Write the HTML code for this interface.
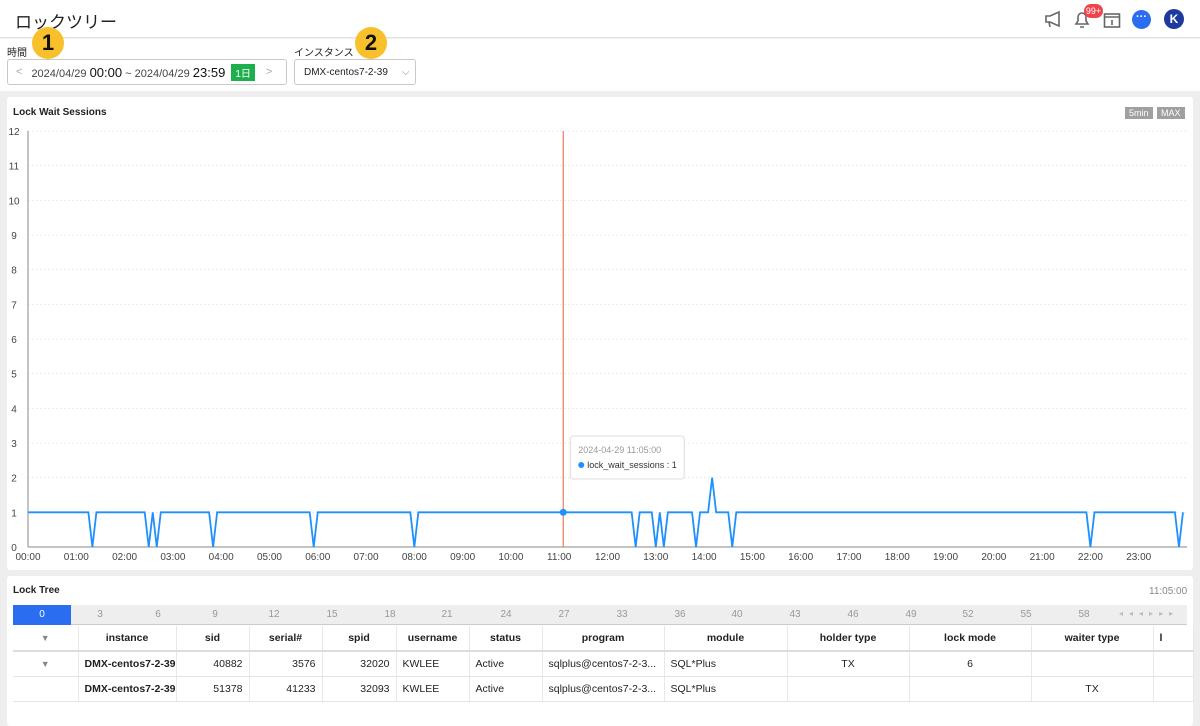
<!DOCTYPE html>
<html><head><meta charset="utf-8">
<style>
*{box-sizing:border-box;margin:0;padding:0}
body{width:1200px;height:721px;overflow:hidden;background:#eeeeee;font-family:"Liberation Sans","Noto Sans CJK JP",sans-serif;color:#222;position:relative}
.abs{position:absolute}
.hdr{left:0;top:0;width:1200px;height:38px;background:#fff;border-bottom:1px solid #e4e4e4}
.flt{left:0;top:39px;width:1200px;height:52px;background:#fff}
.box{border:1px solid #c8c8c8;border-radius:3px;background:#fff;height:26px;top:59px;font-size:11px;display:flex;align-items:center}
.badge{width:32px;height:32px;border-radius:50%;background:#f8c02a;font-weight:bold;font-size:22px;text-align:center;line-height:32px;color:#111}
.panel{background:#fff;border-radius:3px}
table{border-collapse:collapse;font-size:10.5px;table-layout:fixed}
td,th{height:25px;border-right:1px solid #e8e8e8;border-bottom:1px solid #e4e4e4;padding:0 6px;white-space:nowrap;overflow:hidden}
th{font-weight:bold;text-align:center;border-bottom:2px solid #ddd}
</style></head><body>
<div class="abs hdr">
 <div class="abs" style="left:15px;top:8px;font-size:17px">ロックツリー</div>
 <svg class="abs" style="left:1044px;top:10px" width="20" height="18"><path d="M2 6h4l9-4v14l-9-4H2z M5 12l1 5" fill="none" stroke="#666" stroke-width="1.6"/></svg>
 <svg class="abs" style="left:1073px;top:10px" width="18" height="20"><path d="M3 14h12l-2-3V7a4 4 0 0 0-8 0v4z M7 17h4" fill="none" stroke="#666" stroke-width="1.6"/></svg>
 <div class="abs" style="left:1084px;top:4px;width:19px;height:14px;border-radius:7px;background:#f0444c;color:#fff;font-size:9px;text-align:center;line-height:14px">99+</div>
 <svg class="abs" style="left:1103px;top:11px" width="18" height="18"><rect x="1.5" y="3" width="15" height="13" fill="none" stroke="#666" stroke-width="1.6"/><path d="M1.5 6h15 M9 9v5" stroke="#666" stroke-width="1.6"/></svg>
 <div class="abs" style="left:1132px;top:10px;width:19px;height:19px;border-radius:50%;background:#2a6df0;color:#fff;font-size:11px;text-align:center;line-height:15px;font-weight:bold">···</div>
 <div class="abs" style="left:1164px;top:9px;width:20px;height:20px;border-radius:50%;background:#1f3a9e;color:#fff;font-size:12px;text-align:center;line-height:20px;font-weight:bold">K</div>
</div>
<div class="abs flt"></div>
<div class="abs" style="left:7px;top:44px;font-size:10px">時間</div>
<div class="abs badge" style="left:32px;top:27px">1</div>
<div class="abs box" style="left:7px;width:280px">
 <span style="color:#aaa;margin:0 9px 0 8px">&lt;</span>
 <span style="color:#444">2024/04/29 <b style="font-size:13px;font-weight:normal;color:#111">00:00</b> ~ 2024/04/29 <b style="font-size:13px;font-weight:normal;color:#111">23:59</b></span>
 <span style="background:#1dae4e;color:#fff;font-size:10px;padding:1px 4px;margin-left:6px">1日</span>
 <span style="color:#aaa;margin-left:11px">&gt;</span>
</div>
<div class="abs" style="left:294px;top:44px;font-size:10px">インスタンス</div>
<div class="abs badge" style="left:355px;top:27px">2</div>
<div class="abs box" style="left:294px;width:122px;font-size:10px;padding-left:9px">DMX-centos7-2-39<span style="margin-left:14px;color:#888">⌵</span></div>

<div class="abs panel" style="left:7px;top:97px;width:1186px;height:473px">
 <div class="abs" style="left:6px;top:10px;font-size:10px;font-weight:bold">Lock Wait Sessions</div>
 <div class="abs" style="left:1118px;top:10px;font-size:9px;color:#fff;background:#a0a0a0;padding:1px 4px">5min</div>
 <div class="abs" style="left:1150px;top:10px;font-size:9px;color:#fff;background:#a0a0a0;padding:1px 4px">MAX</div>
</div>
<svg class="abs" style="left:0;top:0" width="1200" height="580" id="chart"></svg>

<div class="abs panel" style="left:7px;top:576px;width:1186px;height:150px">
 <div class="abs" style="left:6px;top:9px;font-size:10px;font-weight:bold">Lock Tree</div>
 <div class="abs" style="left:1142px;top:10px;font-size:10px;color:#888">11:05:00</div>
 <div class="abs" id="tl" style="left:6px;top:29px;width:1174px;height:20px;background:#eee;border-bottom:1px solid #ccc;font-size:10px;color:#999">
  <div class="abs" style="left:0;top:0;width:58px;height:20px;background:#2a6df0;color:#fff;text-align:center;line-height:20px">0</div>
  <div class="abs" style="left:1106px;top:4px;font-size:8px;letter-spacing:6px;color:#bbb">◂◂◂▸▸▸</div>
 </div>
 <table class="abs" style="left:6px;top:50px;width:1180px">
  <colgroup><col style="width:65px"><col style="width:98px"><col style="width:73px"><col style="width:73px"><col style="width:74px"><col style="width:73px"><col style="width:73px"><col style="width:122px"><col style="width:123px"><col style="width:122px"><col style="width:122px"><col style="width:122px"><col style="width:40px"></colgroup>
  <tr><th style="color:#888;font-size:9px">▼</th><th>instance</th><th>sid</th><th>serial#</th><th>spid</th><th>username</th><th>status</th><th>program</th><th>module</th><th>holder type</th><th>lock mode</th><th>waiter type</th><th style="text-align:left">l</th></tr>
  <tr><td style="text-align:center;color:#888;font-size:9px">▼</td><td style="font-weight:bold;text-align:right">DMX-centos7-2-39</td><td style="text-align:right">40882</td><td style="text-align:right">3576</td><td style="text-align:right">32020</td><td>KWLEE</td><td>Active</td><td>sqlplus@centos7-2-3...</td><td>SQL*Plus</td><td style="text-align:center">TX</td><td style="text-align:center">6</td><td></td><td></td></tr>
  <tr><td></td><td style="font-weight:bold;text-align:right">DMX-centos7-2-39</td><td style="text-align:right">51378</td><td style="text-align:right">41233</td><td style="text-align:right">32093</td><td>KWLEE</td><td>Active</td><td>sqlplus@centos7-2-3...</td><td>SQL*Plus</td><td></td><td></td><td style="text-align:center">TX</td><td></td></tr>
 </table>
</div>

<script>
const yTicks=[0,1,2,3,4,5,6,7,8,9,10,11,12];
const xHours=[0,1,2,3,4,5,6,7,8,9,10,11,12,13,14,15,16,17,18,19,20,21,22,23];
const timelineLabels=[3,6,9,12,15,18,21,24,27,33,36,40,43,46,49,52,55,58];
const selectedIndex=133;
const lockWaitSessions=[
1,1,1,1,1,1,1,1,1,1,1,1,1,1,1,1,0,1,1,1,1,1,1,1,
1,1,1,1,1,1,0,1,0,1,1,1,1,1,1,1,1,1,1,1,1,1,0,1,
1,1,1,1,1,1,1,1,1,1,1,1,1,1,1,1,1,1,1,1,1,1,1,0,
1,1,1,1,1,1,1,1,1,1,1,1,1,1,1,1,1,1,1,1,1,1,1,1,
0,1,1,1,1,1,1,1,1,1,1,1,1,1,1,1,1,1,1,1,1,1,1,1,
1,1,1,1,1,1,1,1,1,1,1,1,1,1,1,1,1,1,1,1,1,1,1,1,
1,1,1,1,1,1,1,0,1,1,1,1,0,1,0,1,1,1,1,1,1,1,0,1,
1,1,2,1,1,1,1,0,1,1,1,1,1,1,1,1,1,1,1,1,1,1,1,1,
1,1,1,1,1,1,1,1,1,1,1,1,1,1,1,1,1,1,1,1,1,1,1,1,
1,1,1,1,1,1,1,1,1,1,1,1,1,1,1,1,1,1,1,1,1,1,1,1,
1,1,1,1,1,1,1,1,1,1,1,1,1,1,1,1,1,1,1,1,1,1,1,1,
0,1,1,1,1,1,1,1,1,1,1,1,1,1,1,1,1,1,1,1,1,1,0,1];
const NS="http://www.w3.org/2000/svg";
const svg=document.getElementById('chart');
const X0=28,X1=1187,Y0=547,Y1=131;
const xs=h=>X0+(X1-X0)*h/24;
const xi=i=>xs(i*5/60);
const ys=v=>Y0-(Y0-Y1)*v/12;
function mk(t,a,txt){const e=document.createElementNS(NS,t);for(const k in a)e.setAttribute(k,a[k]);if(txt!=null)e.textContent=txt;svg.appendChild(e);return e;}
yTicks.forEach(v=>{
 const g=mk('line',{x1:X0,x2:X1,y1:ys(v),y2:ys(v),stroke:v?'#ececec':'#888','stroke-dasharray':v?'2,2':'','stroke-width':1});
 
 
 const t=mk('text',{x:14,y:ys(v)+4,'font-size':10,fill:'#444','text-anchor':'middle'},v);
 
 
});
const ax=mk('line',{x1:X0,x2:X0,y1:Y1,y2:Y0,stroke:'#888'});


xHours.forEach(h=>{
 const t=mk('text',{x:xs(h),y:Y0+13,'font-size':10,fill:'#444','text-anchor':'middle'},(h<10?'0':'')+h+':00');
 
 
});
const sel=mk('line',{x1:xi(selectedIndex),x2:xi(selectedIndex),y1:Y1,y2:Y0,stroke:'#f07a5a','stroke-width':1.2});


const pl=mk('polyline',{points:lockWaitSessions.map((v,i)=>xi(i)+','+ys(v)).join(' '),fill:'none',stroke:'#1e90ff','stroke-width':1.8});


const pt=mk('circle',{cx:xi(selectedIndex),cy:ys(lockWaitSessions[selectedIndex]),r:3.5,fill:'#1e90ff'});


const tx=xi(selectedIndex)+7;
const tb=mk('rect',{x:tx,y:436,width:114,height:43,rx:3,fill:'#fff',stroke:'#ddd'});


const t1=mk('text',{x:tx+8,y:453,'font-size':9,fill:'#999'},'2024-04-29 11:05:00');


const c1=mk('circle',{cx:tx+11,cy:465,r:3,fill:'#1e90ff'});


const t2=mk('text',{x:tx+17,y:468,'font-size':9,fill:'#333'},'lock_wait_sessions : '+lockWaitSessions[selectedIndex]);


const tl=document.getElementById('tl');
const tlPos=[87,145,202,261,319,377,434,493,551,609,667,724,782,840,898,955,1013,1071];
timelineLabels.forEach((l,i)=>{const d=document.createElement('div');
 
 
 d.className='abs';d.style.left=(tlPos[i]-20)+'px';d.style.width='40px';d.style.textAlign='center';d.style.top='4px';d.textContent=l;tl.appendChild(d);});
</script>
</body></html>
